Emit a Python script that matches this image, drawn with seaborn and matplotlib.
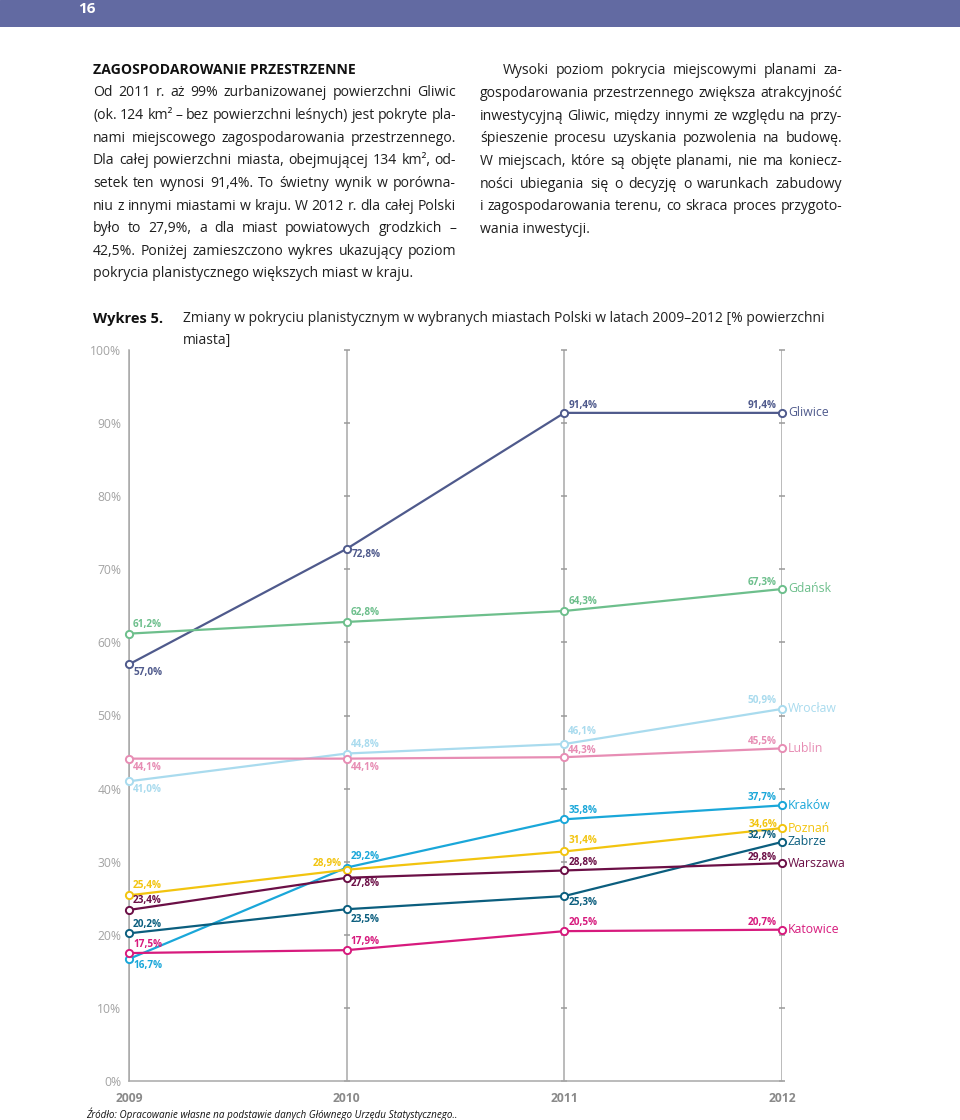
import numpy as np
import pandas as pd
import matplotlib
matplotlib.use("Agg")
import matplotlib.pyplot as plt
import seaborn as sns

# ---------------- data ----------------
years = [2009, 2010, 2011, 2012]
cities = ["Gliwice", "Gdańsk", "Wrocław", "Lublin", "Kraków",
          "Poznań", "Zabrze", "Warszawa", "Katowice"]
gliwice = [57.0, 72.8, 91.4, 91.4]
gdansk = [61.2, 62.8, 64.3, 67.3]
wroclaw = [41.0, 44.8, 46.1, 50.9]
lublin = [44.1, 44.1, 44.3, 45.5]
krakow = [16.7, 29.2, 35.8, 37.7]
poznan = [25.4, 28.9, 31.4, 34.6]
zabrze = [20.2, 23.5, 25.3, 32.7]
warszawa = [23.4, 27.8, 28.8, 29.8]
katowice = [17.5, 17.9, 20.5, 20.7]
y_ticks = [0, 10, 20, 30, 40, 50, 60, 70, 80, 90, 100]
y_tick_labels = [f"{t}%" for t in y_ticks]
x_tick_labels = ["2009", "2010", "2011", "2012"]

series = [gliwice, gdansk, wroclaw, lublin, krakow, poznan, zabrze, warszawa, katowice]

# ---------------- styles / layout ----------------
palette = {
    "Gliwice": "#4f5a8c",
    "Gdańsk": "#6dbf8c",
    "Wrocław": "#a9dbee",
    "Lublin": "#e78db4",
    "Kraków": "#1aa7d9",
    "Poznań": "#f2c40f",
    "Zabrze": "#0b5e7e",
    "Warszawa": "#6b0f46",
    "Katowice": "#d71a7d",
}
# value label offsets in pixels (dx right, dy down)
label_offsets = {
    "Gliwice": [(4, 8), (5, 6), (4, -7), (-5, -7)],
    "Gdańsk": [(4, -9), (4, -9), (4, -9), (-5, -7)],
    "Wrocław": [(4, 8), (4, -9), (4, -13), (-5, -8)],
    "Lublin": [(4, 9), (4, 9), (4, -7), (-5, -7)],
    "Kraków": [(4, 7), (4, -11), (4, -9), (-5, -8)],
    "Poznań": [(4, -10), (-5, -6), (4, -11), (-5, -4)],
    "Zabrze": [(4, -9), (4, 10), (4, 6), (-5, -6)],
    "Warszawa": [(4, -9), (4, 6), (4, -8), (-5, -6)],
    "Katowice": [(4, -9), (4, -9), (4, -9), (-5, -7)],
}
name_offsets = {c: (6, 0) for c in cities}
name_offsets["Gdańsk"] = (6, -1)

W, H = 960, 1120
FAM = ["Open Sans", "DejaVu Sans"]

sns.set_style("white")
plt.rcParams["font.family"] = FAM

fig = plt.figure(figsize=(W / 100, H / 100), dpi=100)
fig.patch.set_facecolor("white")


def fx(x):
    return x / W


def fy(y):
    return 1 - y / H


# ---------------- header bar ----------------
bar = fig.add_axes([0, fy(27), 1, 27 / H])
bar.set_axis_off()
bar.add_patch(plt.Rectangle((0, 0), 1, 1, transform=bar.transAxes, color="#626aa2"))
fig.text(fx(78), fy(9), "16", color="white", fontsize=11, fontweight="bold",
         ha="left", va="center")

# ---------------- paragraphs ----------------
renderer = fig.canvas.get_renderer()
TXT = "#1e1e1e"

left_lines = [
    "Od 2011 r. aż 99% zurbanizowanej powierzchni Gliwic",
    "(ok. 124 km² – bez powierzchni leśnych) jest pokryte pla-",
    "nami miejscowego zagospodarowania przestrzennego.",
    "Dla całej powierzchni miasta, obejmującej 134 km², od-",
    "setek ten wynosi 91,4%. To świetny wynik w porówna-",
    "niu z innymi miastami w kraju. W 2012 r. dla całej Polski",
    "było to 27,9%, a dla miast powiatowych grodzkich –",
    "42,5%. Poniżej zamieszczono wykres ukazujący poziom",
    "pokrycia planistycznego większych miast w kraju.",
]
right_lines = [
    "Wysoki poziom pokrycia miejscowymi planami za-",
    "gospodarowania przestrzennego zwiększa atrakcyjność",
    "inwestycyjną Gliwic, między innymi ze względu na przy-",
    "śpieszenie procesu uzyskania pozwolenia na budowę.",
    "W miejscach, które są objęte planami, nie ma koniecz-",
    "ności ubiegania się o decyzję o warunkach zabudowy",
    "i zagospodarowania terenu, co skraca proces przygoto-",
    "wania inwestycji.",
]


def text_width(s, **kw):
    t = fig.text(0, 0, s, **kw)
    w = t.get_window_extent(renderer=renderer).width
    t.remove()
    return w


def min_gap(fs):
    gaps = []
    for lines, x0s, x1 in [(left_lines[:-1], [93] * 8, 456),
                           (right_lines[:-1], [503] + [480] * 6, 842)]:
        for s, x0 in zip(lines, x0s):
            words = s.split(" ")
            tot = sum(text_width(w, fontsize=fs) for w in words)
            gaps.append((x1 - x0 - tot) / (len(words) - 1))
    return min(gaps)


PFS = 11.0
while PFS > 9 and min_gap(PFS) < 3.2:
    PFS -= 0.1


def line(s, x0, x1, y, justify=True, **kw):
    kw.setdefault("fontsize", PFS)
    kw.setdefault("color", TXT)
    if not justify:
        fig.text(fx(x0), fy(y), s, ha="left", va="center_baseline", **kw)
        return
    words = s.split(" ")
    widths = [text_width(w, **kw) for w in words]
    gap = (x1 - x0 - sum(widths)) / max(len(words) - 1, 1)
    x = x0
    for w, wd in zip(words, widths):
        fig.text(fx(x), fy(y), w, ha="left", va="center_baseline", **kw)
        x += wd + gap


LS = 22.6
line("ZAGOSPODAROWANIE PRZESTRZENNE", 93, 456, 69, justify=False,
     fontweight="bold", color="#111111")
for i, s in enumerate(left_lines):
    line(s, 93, 456, 91 + i * LS, justify=(i < len(left_lines) - 1))
for i, s in enumerate(right_lines):
    x0 = 503 if i == 0 else 480
    line(s, x0, 842, 69 + i * LS, justify=(i < len(right_lines) - 1))

# ---------------- chart title ----------------
fig.text(fx(93), fy(317), "Wykres 5.", fontsize=10.5, fontweight="bold",
         color="#111111", ha="left", va="center_baseline")
fig.text(fx(183), fy(317),
         "Zmiany w pokryciu planistycznym w wybranych miastach Polski w latach 2009–2012 [% powierzchni",
         fontsize=10, color="#222222", ha="left", va="center_baseline")
fig.text(fx(183), fy(339), "miasta]", fontsize=10, color="#222222",
         ha="left", va="center_baseline")

# ---------------- chart ----------------
ax = fig.add_axes([fx(129), fy(1081), 653 / W, 731 / H])
ax.set_facecolor("none")

df = pd.DataFrame({
    "year": np.tile(years, len(cities)),
    "city": np.repeat(cities, len(years)),
    "value": np.concatenate(series),
})

GRID = "#a8a8a8"
ax.set_xlim(years[0], years[-1])
ax.set_ylim(y_ticks[0], y_ticks[-1])
ax.set_axisbelow(True)
ax.xaxis.grid(True, color=GRID, lw=1.1)
ax.yaxis.grid(False)
for sp in ["top", "right"]:
    ax.spines[sp].set_visible(False)
for sp in ["left", "bottom"]:
    ax.spines[sp].set_color(GRID)
    ax.spines[sp].set_linewidth(1.1)

# small tick crossings on the inner vertical lines
for yr in years[1:]:
    ax.plot([yr] * len(y_ticks), y_ticks, ls="none", marker="_", ms=5,
            mew=1.1, color="#9a9a9a", clip_on=False, zorder=1)

sns.lineplot(data=df, x="year", y="value", hue="city", hue_order=cities,
             palette=palette, marker="o", markersize=5.2, markeredgewidth=1.4,
             markerfacecolor="white", linewidth=1.6, legend=False, ax=ax,
             clip_on=False, zorder=3)
for ln in ax.lines[len(years) - 1:]:
    ln.set_markeredgecolor(ln.get_color())
    ln.set_clip_on(False)

ax.set_xlabel("")
ax.set_ylabel("")
ax.set_yticks(y_ticks, labels=y_tick_labels)
ax.set_xticks(years, labels=x_tick_labels)
ax.tick_params(axis="y", length=5, direction="inout", color=GRID, width=1.1,
               labelcolor="#a3a3a3", labelsize=8.7, pad=3)
ax.tick_params(axis="x", length=0, pad=8, labelcolor="#8a8a8a", labelsize=8.7)
for lab in ax.get_xticklabels():
    lab.set_fontweight("bold")

for c, vals in zip(cities, series):
    col = palette[c]
    for yr, v, (dx, dy) in zip(years, vals, label_offsets[c]):
        ax.annotate(f"{v:.1f}".replace(".", ",") + "%", (yr, v),
                    xytext=(dx, -dy), textcoords="offset pixels",
                    ha="left" if dx > 0 else "right", va="center",
                    fontsize=7.2, fontweight="bold", color=col,
                    annotation_clip=False, zorder=4)
    ndx, ndy = name_offsets[c]
    ax.annotate(c, (years[-1], vals[-1]), xytext=(ndx, -ndy),
                textcoords="offset pixels", ha="left", va="center",
                fontsize=8.8, color=col, annotation_clip=False, zorder=4)

# ---------------- source ----------------
fig.text(fx(86), fy(1113),
         "Źródło: Opracowanie własne na podstawie danych Głównego Urzędu Statystycznego..",
         fontsize=7.1, style="italic", color="#111111", ha="left", va="center_baseline")

fig.savefig("out.png", dpi=100, facecolor="white")
